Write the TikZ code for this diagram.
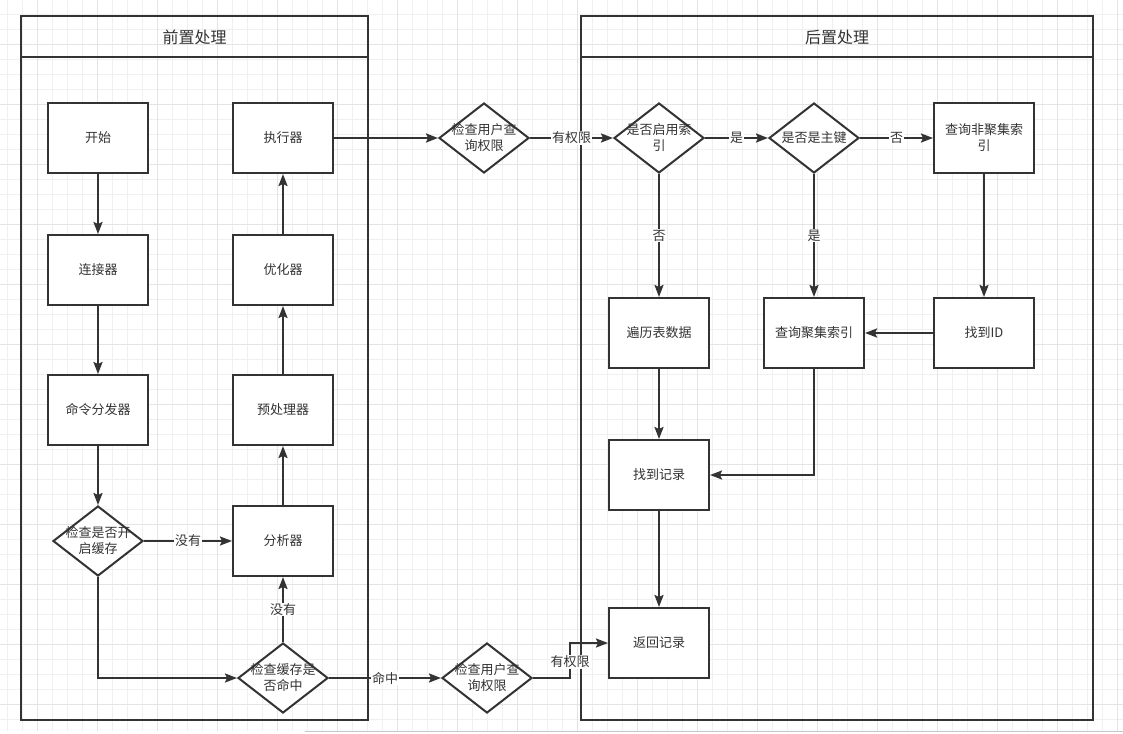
\documentclass[tikz,border=0pt]{standalone}
\usepackage{fontspec}
\setmainfont{Noto Sans CJK SC}
\usetikzlibrary{shapes.geometric,arrows.meta}
\definecolor{ink}{HTML}{333333}
\definecolor{gridminor}{HTML}{F0F0F0}
\definecolor{gridmajor}{HTML}{E4E4E4}
\begin{document}
\begin{tikzpicture}[x=1pt,y=-1pt,
  box/.style={draw=ink,line width=2pt,fill=white,minimum width=100pt,minimum height=70pt,inner sep=0pt,font=\fontsize{13pt}{16pt}\selectfont,text=ink,align=center},
  dia/.style={draw=ink,line width=2pt,fill=white,shape=diamond,minimum width=90pt,minimum height=70pt,inner sep=0pt},
  dtext/.style={font=\fontsize{13pt}{16pt}\selectfont,text=ink,align=center,inner sep=0pt},
  lane/.style={draw=ink,line width=2pt},
  ltitle/.style={font=\fontsize{16pt}{18pt}\selectfont,text=ink},
  arr/.style={draw=ink,line width=2pt,-{Stealth[length=12pt,width=9pt,inset=2pt]}},
  lbl/.style={fill=white,font=\fontsize{13pt}{15pt}\selectfont,text=ink,inner sep=1pt}]
\useasboundingbox (0,0) rectangle (1123,733);
\fill[white] (0,0) rectangle (1123,733);
% grid
\foreach \x in {7.5,22.5,...,1123} {\draw[gridminor,line width=1pt] (\x,0) -- (\x,731);}
\foreach \y in {14.5,29.5,...,731} {\draw[gridminor,line width=1pt] (0,\y) -- (1123,\y);}
\foreach \x in {37.5,97.5,...,1123} {\draw[gridmajor,line width=1pt] (\x,0) -- (\x,731);}
\foreach \y in {44.5,104.5,...,731} {\draw[gridmajor,line width=1pt] (0,\y) -- (1123,\y);}
\draw[gray!45,line width=1pt] (305,731.5) -- (1123,731.5);
% lanes
\draw[lane] (21,16) rectangle (368,720);
\draw[lane] (21,57) -- (368,57);
\node[ltitle] (t1) at (194.5,37) {前置处理};
\draw[lane] (581,16) rectangle (1093,720);
\draw[lane] (581,57) -- (1093,57);
\node[ltitle] (t2) at (837,37) {后置处理};
% left nodes
\node[box] (start) at (98,138) {开始};
\node[box] (conn) at (98,270) {连接器};
\node[box] (disp) at (98,410) {命令分发器};
\node[dia] (d1) at (98,541) {};
\node[dtext] at (d1) {检查是否开\\启缓存};
\node[box] (exec) at (283,138) {执行器};
\node[box] (opt) at (283,270) {优化器};
\node[box] (pre) at (283,410) {预处理器};
\node[box] (ana) at (283,541) {分析器};
\node[dia] (d2) at (283,678) {};
\node[dtext] at (d2) {检查缓存是\\否命中};
% middle
\node[dia] (p1) at (484,138) {};
\node[dtext] at (p1) {检查用户查\\询权限};
\node[dia] (p2) at (487,678) {};
\node[dtext] at (p2) {检查用户查\\询权限};
% right nodes
\node[dia] (ui) at (659,138) {};
\node[dtext] at (ui) {是否启用索\\引};
\node[dia] (pk) at (814,138) {};
\node[dtext] at (pk) {是否是主键};
\node[box] (nci) at (984,138) {查询非聚集索\\引};
\node[box] (scan) at (659,333) {遍历表数据};
\node[box] (ci) at (814,333) {查询聚集索引};
\node[box] (fid) at (984,333) {找到ID};
\node[box] (found) at (659,475) {找到记录};
\node[box] (ret) at (659,643) {返回记录};
\coordinate (bend) at (570,662);
% edges
\draw[arr] (start) -- (conn);
\draw[arr] (conn) -- (disp);
\draw[arr] (disp) -- (d1);
\draw[arr] (d1) -- node[lbl]{没有} (ana);
\draw[arr] (d1.south) |- (d2.west);
\draw[arr] (d2) -- node[lbl]{没有} (ana);
\draw[arr] (ana) -- (pre);
\draw[arr] (pre) -- (opt);
\draw[arr] (opt) -- (exec);
\draw[arr] (exec) -- (p1);
\draw[arr] (p1) -- node[lbl]{有权限} (ui);
\draw[arr] (ui) -- node[lbl]{是} (pk);
\draw[arr] (pk) -- node[lbl]{否} (nci);
\draw[arr] (ui) -- node[lbl]{否} (scan);
\draw[arr] (pk) -- node[lbl]{是} (ci);
\draw[arr] (nci) -- (fid);
\draw[arr] (fid) -- (ci);
\draw[arr] (ci.south) |- (found.east);
\draw[arr] (scan) -- (found);
\draw[arr] (found) -- (ret);
\draw[arr] (d2) -- node[lbl]{命中} (p2);
\draw[arr] (p2.east) -| (bend) node[lbl]{有权限} |- (ret.west);
\end{tikzpicture}
\end{document}
